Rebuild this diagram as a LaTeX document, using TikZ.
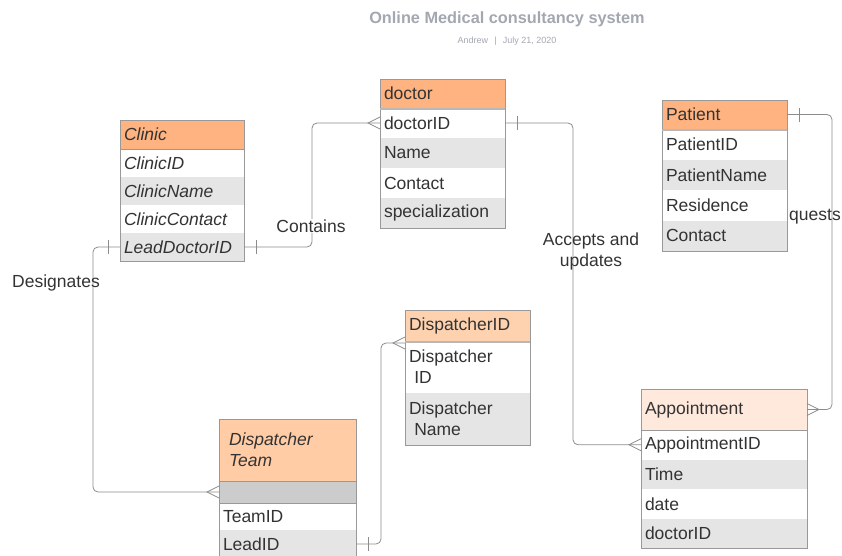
\documentclass[tikz,border=0pt]{standalone}
\usepackage{fontspec}
\setmainfont{Liberation Sans}
\usetikzlibrary{positioning}

\definecolor{hdrorange}{HTML}{FFB380}
\definecolor{hdrlight}{HTML}{FFD2AF}
\definecolor{hdrteam}{HTML}{FFCCA6}
\definecolor{hdrpale}{HTML}{FFE9DC}
\definecolor{rowgray}{HTML}{E5E5E5}
\definecolor{gapgray}{HTML}{CCCCCC}
\definecolor{edgegray}{HTML}{999999}
\definecolor{linkgray}{HTML}{8C8C8C}
\definecolor{txt}{HTML}{333333}
\definecolor{titlegray}{HTML}{A3A7B0}

\newcommand{\erfont}{\fontsize{17.5}{21}\selectfont}

\tikzset{
  ent/.style={rectangle, outer sep=0pt, inner xsep=4pt, inner ysep=0pt,
    align=left, font=\erfont, text=txt},
  hdr/.style={ent, draw=edgegray, line width=0.8pt, fill=hdrorange},
  rw/.style={ent, fill=white},
  rwg/.style={ent, fill=rowgray},
  frame/.style={draw=edgegray, line width=0.8pt},
  link/.style={draw=linkgray, line width=0.8pt, rounded corners=5pt},
  erend/.style={draw=linkgray, line width=0.8pt},
  lbl/.style={font=\erfont, text=txt, inner sep=1pt}
}

\begin{document}
\begin{tikzpicture}[x=1pt,y=-1pt]
\useasboundingbox (0,0) rectangle (842,555);

% title
\node[font=\bfseries\fontsize{16.3}{19}\selectfont, text=titlegray] (title) at (507,19) {Online Medical consultancy system};
\node[font=\fontsize{9}{11}\selectfont, text=titlegray] (author) at (507,41) {Andrew\hspace{0.7em}|\hspace{0.7em}July 21, 2020};

% Clinic
\begin{scope}[every node/.append style={text width=116pt, minimum height=28pt}]
\node[rw, anchor=north west] (clinicid) at (120,149) {\textit{ClinicID}};
\node[rwg, below=0pt of clinicid] (clinicname) {\textit{ClinicName}};
\node[rw, below=0pt of clinicname] (cliniccontact) {\textit{ClinicContact}};
\node[rwg, below=0pt of cliniccontact] (leaddoc) {\textit{LeadDoctorID}};
\node[hdr, above=0pt of clinicid, minimum height=29pt] (clinic) {\textit{Clinic}};
\draw[frame] (clinic.north west) rectangle (leaddoc.south east);
\end{scope}

% doctor
\begin{scope}[every node/.append style={text width=117pt, minimum height=30pt}]
\node[rw, anchor=north west] (doctorid) at (380,108) {doctorID};
\node[rwg, below=0pt of doctorid] (docname) {Name};
\node[rw, below=0pt of docname] (doccontact) {Contact};
\node[rwg, below=0pt of doccontact] (docspec) {specialization};
\node[hdr, above=0pt of doctorid, minimum height=29pt] (doctor) {doctor};
\draw[frame] (doctor.north west) rectangle (docspec.south east);
\draw[frame, line width=1.6pt, draw=edgegray!70] ([yshift=-1.2pt]doctor.south west) -- ([yshift=-1.2pt]doctor.south east);
\end{scope}

% Patient
\begin{scope}[every node/.append style={text width=117pt, minimum height=30.5pt}]
\node[rw, anchor=north west] (patientid) at (662,129) {PatientID};
\node[rwg, below=0pt of patientid] (patientname) {PatientName};
\node[rw, below=0pt of patientname] (residence) {Residence};
\node[rwg, below=0pt of residence] (patcontact) {Contact};
\node[hdr, above=0pt of patientid, minimum height=29pt] (patient) {Patient};
\draw[frame] (patient.north west) rectangle (patcontact.south east);
\draw[frame, line width=1.6pt, draw=edgegray!70] ([yshift=-1.2pt]patient.south west) -- ([yshift=-1.2pt]patient.south east);
\end{scope}

% DispatcherID
\begin{scope}[every node/.append style={text width=117pt, minimum height=52pt}]
\node[rw, anchor=north west] (dispidrow) at (405,341) {Dispatcher\\\hspace*{0.3em}ID};
\node[rwg, below=0pt of dispidrow] (dispname) {Dispatcher\\\hspace*{0.3em}Name};
\node[hdr, fill=hdrlight, above=0pt of dispidrow, minimum height=31pt] (dispid) {DispatcherID};
\draw[frame] (dispid.north west) rectangle (dispname.south east);
\draw[frame, line width=1.6pt, draw=edgegray!70] ([yshift=-1.2pt]dispid.south west) -- ([yshift=-1.2pt]dispid.south east);
\end{scope}

% Appointment
\begin{scope}[every node/.append style={text width=158pt, minimum height=29.5pt}]
\node[rw, anchor=north west] (apptid) at (641,430) {AppointmentID};
\node[rwg, below=0pt of apptid] (appttime) {Time};
\node[rw, below=0pt of appttime] (apptdate) {date};
\node[rwg, below=0pt of apptdate] (apptdoc) {doctorID};
\node[hdr, fill=hdrpale, above=0pt of apptid, minimum height=41pt] (appt) {Appointment};
\draw[frame] (appt.north west) rectangle (apptdoc.south east);
\end{scope}

% Dispatcher Team
\begin{scope}[every node/.append style={text width=129pt, minimum height=28pt}]
\node[rwg, fill=gapgray, anchor=north west, minimum height=22pt] (teamgap) at (219,481) {};
\node[rw, below=0pt of teamgap, minimum height=27pt] (teamid) {TeamID};
\node[rwg, below=0pt of teamid] (leadid) {LeadID};
\node[hdr, fill=hdrteam, above=0pt of teamgap, minimum height=62pt] (team) {\hspace*{6pt}\textit{Dispatcher}\\\hspace*{6pt}\textit{Team}};
\draw[frame] (team.north west) rectangle (leadid.south east);
\draw[frame] (teamgap.south west) -- (teamgap.south east);
\end{scope}

% Contains
\draw[link] (leaddoc.east) -- ++(68,0) |- (doctorid.west);
\draw[erend] ([xshift=12pt,yshift=-7pt]leaddoc.east) -- ([xshift=12pt,yshift=7pt]leaddoc.east);
\draw[erend] ([yshift=6pt]doctorid.west) -- ([xshift=-12pt]doctorid.west) -- ([yshift=-6pt]doctorid.west);
\node[lbl, fill=white] (contains) at (311,226) {Contains};

% Designates
\draw[link] (leaddoc.west) -- ++(-27,0) |- (teamgap.west);
\draw[erend] ([xshift=-12pt,yshift=-7pt]leaddoc.west) -- ([xshift=-12pt,yshift=7pt]leaddoc.west);
\draw[erend] ([yshift=6pt]teamgap.west) -- ([xshift=-12pt]teamgap.west) -- ([yshift=-6pt]teamgap.west);
\node[lbl] (designates) at (56,283) {Designates};

% Accepts and updates
\draw[link] (doctorid.east) -- ++(68,0) |- (apptid.west);
\draw[erend] ([xshift=12pt,yshift=-7pt]doctorid.east) -- ([xshift=12pt,yshift=7pt]doctorid.east);
\draw[erend] ([yshift=6pt]apptid.west) -- ([xshift=-12pt]apptid.west) -- ([yshift=-6pt]apptid.west);
\node[lbl, align=center] (accepts) at (591,251) {Accepts and\\updates};

% Requests
\draw[link] (patient.east) -- ++(45,0) |- (appt.east);
\draw[erend] ([xshift=12pt,yshift=-7pt]patient.east) -- ([xshift=12pt,yshift=7pt]patient.east);
\draw[erend] ([yshift=6pt]appt.east) -- ([xshift=12pt]appt.east) -- ([yshift=-6pt]appt.east);
\node[lbl] (quests) at (815,217) {quests};

% LeadID to DispatcherID
\draw[link] (leadid.east) -- ++(25,0) |- ([yshift=-2pt]dispid.south west);
\draw[erend] ([xshift=12pt,yshift=-7pt]leadid.east) -- ([xshift=12pt,yshift=7pt]leadid.east);
\draw[erend] ([yshift=4pt]dispid.south west) -- ([xshift=-12pt,yshift=-2pt]dispid.south west) -- ([yshift=-8pt]dispid.south west);

\end{tikzpicture}
\end{document}
